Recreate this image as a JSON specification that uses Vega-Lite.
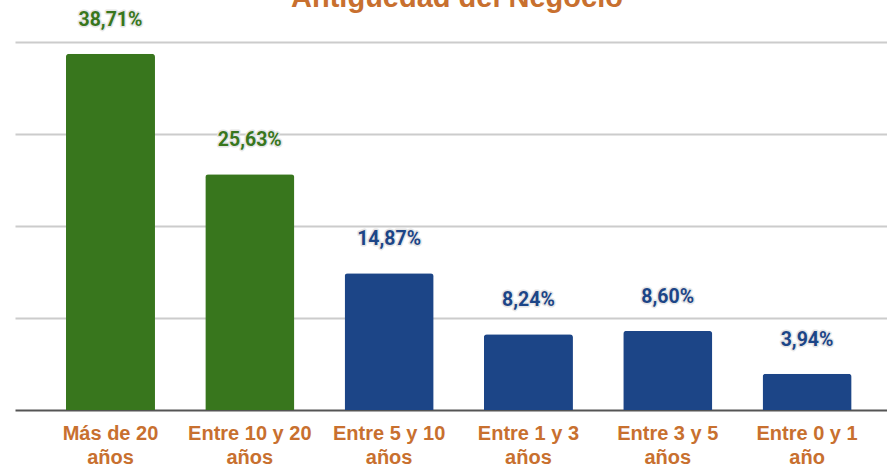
{
  "$schema": "https://vega.github.io/schema/vega-lite/v6.json",
  "autosize": {"type": "none"},
  "width": 872,
  "height": 368,
  "padding": {"left": 15, "top": 42, "right": 0, "bottom": 56},
  "background": "white",
  "title": {
    "text": "Antigüedad del Negocio",
    "color": "#C8702F",
    "font": "Liberation Sans",
    "fontSize": 29,
    "fontWeight": "bold",
    "anchor": "middle",
    "baseline": "alphabetic",
    "frame": "group",
    "offset": 0,
    "dy": 26,
    "dx": 6
  },
  "data": {
    "values": [
      {"cat": "Más de 20 años", "value": 38.71, "label": "38,71%", "grp": "g"},
      {"cat": "Entre 10 y 20 años", "value": 25.63, "label": "25,63%", "grp": "g"},
      {"cat": "Entre 5 y 10 años", "value": 14.87, "label": "14,87%", "grp": "b"},
      {"cat": "Entre 1 y 3 años", "value": 8.24, "label": "8,24%", "grp": "b"},
      {"cat": "Entre 3 y 5 años", "value": 8.60, "label": "8,60%", "grp": "b"},
      {"cat": "Entre 0 y 1 año", "value": 3.94, "label": "3,94%", "grp": "b"}
    ]
  },
  "config": {"view": {"stroke": null}},
  "encoding": {
    "x": {
      "field": "cat",
      "type": "nominal",
      "sort": null,
      "scale": {"paddingInner": 0.361, "paddingOuter": 0.31, "align": 0.59},
      "axis": {
        "title": null,
        "labelAngle": 0,
        "labelExpr": "[substring(datum.value, 0, lastindexof(datum.value, ' ')), substring(datum.value, lastindexof(datum.value, ' ') + 1)]",
        "labelFont": "Liberation Sans",
        "labelFontSize": 20,
        "labelFontWeight": "bold",
        "labelColor": "#C8702F",
        "labelLineHeight": 24,
        "labelPadding": 13,
        "ticks": false,
        "domain": true,
        "domainColor": "#555555",
        "domainWidth": 2,
        "grid": false
      }
    },
    "y": {
      "field": "value",
      "type": "quantitative",
      "scale": {"domain": [0, 40], "nice": false},
      "axis": {
        "title": null,
        "labels": false,
        "ticks": false,
        "domain": false,
        "values": [10, 20, 30, 40],
        "grid": true,
        "gridColor": "#cccccc",
        "gridWidth": 2
      }
    },
    "color": {
      "field": "grp",
      "type": "nominal",
      "scale": {"domain": ["g", "b"], "range": ["#38761D", "#1C4587"]},
      "legend": null
    }
  },
  "layer": [
    {"mark": {"type": "bar", "cornerRadiusTopLeft": 3, "cornerRadiusTopRight": 3}},
    {
      "mark": {"type": "text", "font": "Roboto", "fontSize": 19.5, "fontWeight": "bold", "baseline": "middle", "dy": -34, "stroke": "#e6e6e6", "strokeWidth": 3, "strokeJoin": "round"},
      "encoding": {"text": {"field": "label"}, "color": {"value": "white"}}
    },
    {
      "mark": {"type": "text", "font": "Roboto", "fontSize": 19.5, "fontWeight": "bold", "baseline": "middle", "dy": -34},
      "encoding": {"text": {"field": "label"}}
    }
  ]
}
